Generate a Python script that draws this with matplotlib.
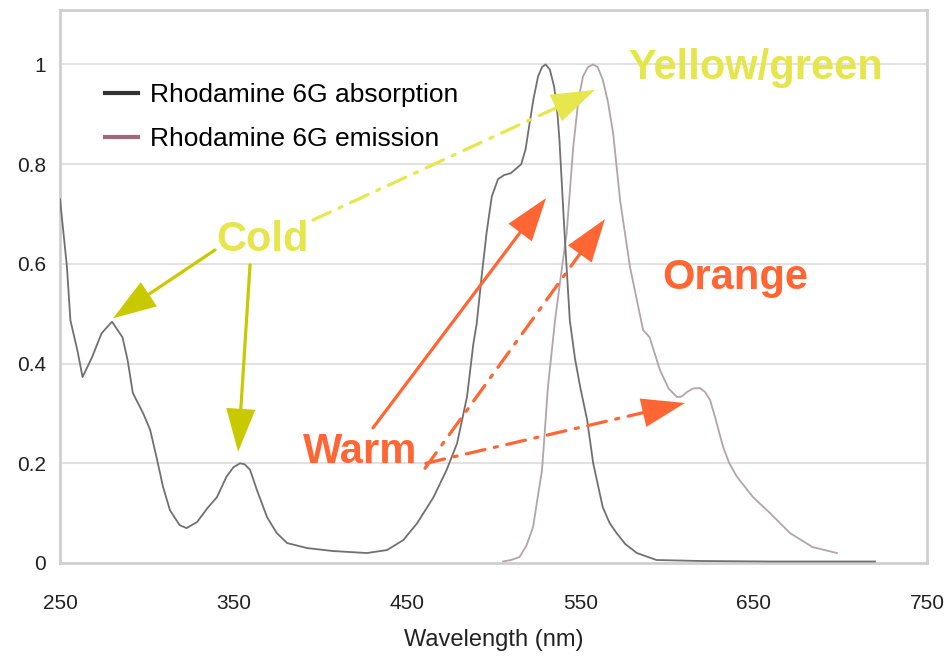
import matplotlib
matplotlib.use("Agg")
import matplotlib.pyplot as plt
from matplotlib.lines import Line2D

# ---------------- data ----------------
abs_nm = [250, 254, 256, 260, 263, 268.5, 274, 280, 286, 289, 292, 298, 302, 306, 309.4,
          313.4, 319, 323, 329, 335, 340.5, 346, 350, 353.8, 356.5, 359.6, 363.6, 369.4,
          375, 381, 392.4, 407.4, 427, 438.6, 448, 456, 465.4, 473, 479, 484.7, 488.4,
          490.3, 493, 496, 499, 502.6, 506, 510, 516, 518.5, 520.5, 523, 525.7, 528, 530,
          532.5, 535, 536.8, 538, 541, 544, 547, 550, 554, 557.5, 563, 567, 571, 576,
          582.7, 594, 620, 660, 720]
abs_val = [0.730, 0.594, 0.487, 0.427, 0.373, 0.413, 0.461, 0.484, 0.453, 0.407, 0.341,
           0.300, 0.267, 0.207, 0.153, 0.106, 0.076, 0.070, 0.082, 0.110, 0.132, 0.173,
           0.192, 0.200, 0.198, 0.187, 0.146, 0.092, 0.060, 0.040, 0.030, 0.024, 0.020,
           0.026, 0.046, 0.080, 0.132, 0.187, 0.240, 0.333, 0.440, 0.480, 0.570, 0.662,
           0.735, 0.770, 0.778, 0.782, 0.800, 0.830, 0.875, 0.930, 0.976, 0.995, 1.000,
           0.990, 0.955, 0.905, 0.850, 0.660, 0.487, 0.410, 0.353, 0.287, 0.200, 0.112,
           0.080, 0.060, 0.038, 0.020, 0.006, 0.004, 0.003, 0.003]

em_nm = [505.5, 510, 515, 519, 522.8, 528, 531.4, 535.5, 539, 542.2, 546, 549, 551.6,
         554.5, 557.4, 560, 563, 566, 569, 573, 578.7, 586.3, 590, 596, 601, 605.8, 608.5,
         611.6, 615, 619, 622, 624.9, 628, 632.4, 636, 640.4, 649.7, 659.5, 671, 684, 698]
em_val = [0.003, 0.006, 0.012, 0.035, 0.072, 0.187, 0.353, 0.487, 0.580, 0.662, 0.835,
          0.930, 0.976, 0.995, 1.000, 0.995, 0.970, 0.925, 0.862, 0.728, 0.594, 0.467,
          0.453, 0.387, 0.350, 0.333, 0.334, 0.343, 0.350, 0.351, 0.343, 0.327, 0.290,
          0.233, 0.200, 0.173, 0.132, 0.100, 0.060, 0.032, 0.020]

x_ticks = [250, 350, 450, 550, 650, 750]
y_ticks = [0, 0.2, 0.4, 0.6, 0.8, 1]
y_tick_labels = ["0", "0.2", "0.4", "0.6", "0.8", "1"]
legend_labels = ["Rhodamine 6G absorption", "Rhodamine 6G emission"]
x_label = "Wavelength (nm)"

# ---------------- figure ----------------
narrow = ["Liberation Sans Narrow", "DejaVu Sans Condensed", "Liberation Sans", "DejaVu Sans"]
bold = ["Liberation Sans", "DejaVu Sans"]

fig = plt.figure(figsize=(9.51, 6.58), dpi=100)
ax = fig.add_axes([60 / 951, 1 - 563 / 658, 867 / 951, 553 / 658])
ax.set_xlim(250, 750)
ax.set_ylim(0, 553 / 498.5)

for y in y_ticks[1:]:
    ax.axhline(y, color="#e2e2e2", lw=1.5, zorder=0)

ax.plot(abs_nm, abs_val, color="#707070", lw=1.3, zorder=3,
        solid_joinstyle="round")
ax.plot(em_nm, em_val, color="#b3a3ab", lw=1.3, zorder=2,
        solid_joinstyle="round")

for s in ax.spines.values():
    s.set_color("#cfcfcf")
    s.set_linewidth(2)

ax.set_xticks(x_ticks)
ax.set_xticklabels([str(v) for v in x_ticks], family=narrow, fontsize=15, color="#222222")
ax.set_yticks(y_ticks)
ax.set_yticklabels(y_tick_labels, family=narrow, fontsize=15, color="#222222")
ax.tick_params(axis="both", length=0)
ax.tick_params(axis="x", pad=22)
ax.tick_params(axis="y", pad=10)
ax.set_xlabel(x_label, family=narrow, fontsize=17, color="#222222", labelpad=12)

handles = [Line2D([], [], color="#333333", lw=3),
           Line2D([], [], color="#a0687a", lw=3)]
leg = ax.legend(handles, legend_labels, loc="upper left", bbox_to_anchor=(0.052, 0.868),
                frameon=False, handlelength=1.25, handletextpad=0.45, labelspacing=0.75,
                borderpad=0, borderaxespad=0,
                prop={"family": narrow, "size": 19})

# ---------------- annotations ----------------
yel_text = "#e5e54c"
yel_solid = "#c9c900"
yel_dash = "#e6e64d"
orange = "#ff6633"
dashdot = (0, (6, 3, 1, 3))

def arrow(start, tip, color, ls="-", lw=2.3):
    # shaft
    ax.annotate("", xy=tip, xytext=start,
                arrowprops=dict(arrowstyle="-", color=color, lw=lw, linestyle=ls,
                                shrinkA=0, shrinkB=22), zorder=5)
    # solid filled head
    ax.annotate("", xy=tip, xytext=start,
                arrowprops=dict(arrowstyle="-|>,head_length=3.1,head_width=1.05",
                                mutation_scale=10, color=color, lw=0,
                                shrinkA=0, shrinkB=0), zorder=5)

arrow((339.4, 0.628), (280.6, 0.491), yel_solid)
arrow((359.6, 0.598), (352.7, 0.223), yel_solid)
arrow((395.9, 0.688), (558.5, 0.949), yel_dash, ls=dashdot)
arrow((430.5, 0.271), (530.3, 0.732), orange)
arrow((460.5, 0.190), (564.3, 0.690), orange, ls=dashdot)
arrow((461.0, 0.200), (610.4, 0.321), orange, ls=dashdot)

ax.text(366.5, 0.648, "Cold", color=yel_text, fontsize=30, fontweight="bold",
        family=bold, ha="center", va="center", zorder=6)
ax.text(651.4, 0.992, "Yellow/green", color=yel_text, fontsize=30, fontweight="bold",
        family=bold, ha="center", va="center", zorder=6)
ax.text(639.3, 0.572, "Orange", color=orange, fontsize=30, fontweight="bold",
        family=bold, ha="center", va="center", zorder=6)
ax.text(423.0, 0.223, "Warm", color=orange, fontsize=30, fontweight="bold",
        family=bold, ha="center", va="center", zorder=6)

fig.savefig("out.png", dpi=100)
